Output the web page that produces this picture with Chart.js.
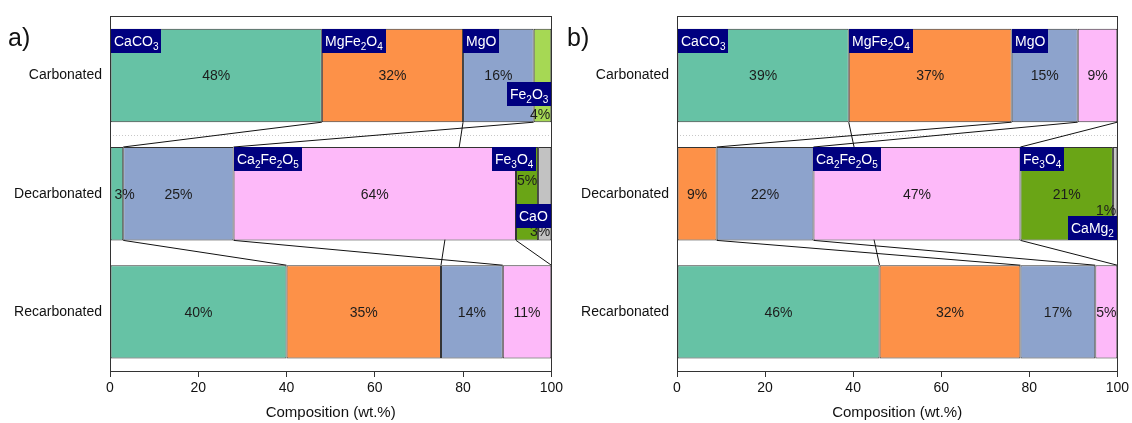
<!DOCTYPE html>
<html>
<head>
<meta charset="utf-8">
<script src="https://cdn.jsdelivr.net/npm/chart.js@4.4.1/dist/chart.umd.min.js"></script>
<style>
  html, body { margin: 0; padding: 0; background: #fff; }
  #wrap { position: relative; width: 1132px; height: 423px; overflow: hidden; }
  canvas { position: absolute; top: 0; }
  #chartA { left: 0; }
  #chartB { left: 566px; }
</style>
</head>
<body>
<div id="wrap">
  <canvas id="chartA" width="566" height="423" style="width:566px;height:423px"></canvas>
  <canvas id="chartB" width="566" height="423" style="width:566px;height:423px"></canvas>
</div>
<script>
// ---- data -------------------------------------------------------------
const categories = ['Carbonated', 'Decarbonated', 'Recarbonated'];
const xTicks = [0, 20, 40, 60, 80, 100];

// panel a) phase composition (wt.%), one value per category
const phasesA   = ['CaCO3', 'MgFe2O4', 'MgO', 'Fe2O3', 'Ca2Fe2O5', 'Fe3O4', 'CaO'];
const caco3A    = [48, 3, 40];
const mgfe2o4A  = [32, null, 35];
const mgoA      = [16, 25, 14];
const fe2o3A    = [4, null, null];
const ca2fe2o5A = [null, 64, 11];
const fe3o4A    = [null, 5, null];
const caoA      = [null, 3, null];

// panel b)
const phasesB   = ['CaCO3', 'MgFe2O4', 'MgO', 'Ca2Fe2O5', 'Fe3O4', 'CaMg2'];
const caco3B    = [39, null, 46];
const mgfe2o4B  = [37, 9, 32];
const mgoB      = [15, 22, 17];
const ca2fe2o5B = [9, 47, 5];
const fe3o4B    = [null, 21, null];
const camg2B    = [null, 1, null];

// ---- styling ----------------------------------------------------------
const FONT = "'Liberation Sans', Arial, Helvetica, sans-serif";
const phaseColors = {
  CaCO3: '#66c2a5', MgFe2O4: '#fd9148', MgO: '#8da3cc', Fe2O3: '#a6d854',
  Ca2Fe2O5: '#fdb9f9', Fe3O4: '#6aa516', CaO: '#c2c2c2', CaMg2: '#c8c8c8'
};
const TAG_SIZE = 14, SUB_SIZE = 10, TAG_H = 24, TAG_PAD = 3;

// where the navy phase tags sit on their segment
const tagsA = [
  { ds: 0, cat: 0 }, { ds: 1, cat: 0 }, { ds: 2, cat: 0 },
  { ds: 3, cat: 0, anchor: 'frameRight', top: 53 },
  { ds: 4, cat: 1 },
  { ds: 5, cat: 1, anchor: 'segEnd' },
  { ds: 6, cat: 1, anchor: 'frameRight', top: 57 }
];
const tagsB = [
  { ds: 0, cat: 0 }, { ds: 1, cat: 0 }, { ds: 2, cat: 0 },
  { ds: 3, cat: 1 }, { ds: 4, cat: 1 },
  { ds: 5, cat: 1, anchor: 'frameRight', bottom: true }
];
// value labels that do not sit in the middle of their segment
const valuePlaceA = {
  '3-0': { align: 'right', dy: 39 },
  '0-1': { align: 'left', dx: 4 },
  '5-1': { dy: -14 },
  '6-1': { align: 'right', dy: 37 }
};
const valuePlaceB = {
  '5-1': { align: 'right', dy: 16 }
};

// ---- helpers ----------------------------------------------------------
function formulaParts(text) {
  return text.match(/[A-Za-z()]+|\d+/g).map(s => ({ s, sub: /^\d+$/.test(s) }));
}
function formulaWidth(ctx, text) {
  let w = 0;
  for (const p of formulaParts(text)) {
    ctx.font = (p.sub ? SUB_SIZE : TAG_SIZE) + 'px ' + FONT;
    w += ctx.measureText(p.s).width;
  }
  return w;
}
function drawFormula(ctx, text, x, yBase) {
  ctx.textAlign = 'left';
  ctx.textBaseline = 'alphabetic';
  for (const p of formulaParts(text)) {
    ctx.font = (p.sub ? SUB_SIZE : TAG_SIZE) + 'px ' + FONT;
    ctx.fillText(p.s, x, p.sub ? yBase + 4 : yBase);
    x += ctx.measureText(p.s).width;
  }
}

// lines joining each phase's cumulative edge from one bar to the next bar holding it
const connectorPlugin = {
  id: 'connectors',
  beforeDatasetsDraw(chart) {
    const { ctx, chartArea, scales } = chart;
    ctx.save();
    // faint dotted separator between the first two rows
    const ySep = Math.round(scales.y.getPixelForValue(0.5)) + 0.5;
    ctx.strokeStyle = '#c8c8c8';
    ctx.lineWidth = 1;
    ctx.setLineDash([1, 2]);
    ctx.beginPath();
    ctx.moveTo(chartArea.left, ySep);
    ctx.lineTo(chartArea.right, ySep);
    ctx.stroke();
    ctx.setLineDash([]);

    ctx.strokeStyle = '#111';
    ctx.lineWidth = 1;
    chart.data.datasets.forEach((ds, di) => {
      const meta = chart.getDatasetMeta(di);
      const present = [];
      ds.data.forEach((v, ci) => { if (v !== null && v !== undefined) present.push(ci); });
      for (let k = 0; k + 1 < present.length; k++) {
        const a = meta.data[present[k]], b = meta.data[present[k + 1]];
        ctx.beginPath();
        ctx.moveTo(a.x, a.y + a.height / 2);
        ctx.lineTo(b.x, b.y - b.height / 2);
        ctx.stroke();
      }
    });
    ctx.restore();
  }
};

const labelPlugin = {
  id: 'segmentLabels',
  afterDatasetsDraw(chart, args, opts) {
    const { ctx, chartArea } = chart;
    ctx.save();
    // value labels
    ctx.fillStyle = '#1c1c1c';
    ctx.font = '14px ' + FONT;
    ctx.textBaseline = 'middle';
    chart.data.datasets.forEach((ds, di) => {
      const meta = chart.getDatasetMeta(di);
      ds.data.forEach((v, ci) => {
        if (v === null || v === undefined) return;
        const el = meta.data[ci];
        const place = opts.valuePlace[di + '-' + ci] || {};
        let x = (el.x + el.base) / 2, align = 'center';
        if (place.align === 'right') { x = chartArea.right - 1; align = 'right'; }
        if (place.align === 'left') { x = el.base + (place.dx || 0); align = 'left'; }
        ctx.textAlign = align;
        ctx.fillText(v + '%', x, el.y + 1 + (place.dy || 0));
      });
    });
    // phase tags
    opts.tags.forEach(t => {
      const el = chart.getDatasetMeta(t.ds).data[t.cat];
      const name = chart.data.datasets[t.ds].label;
      const w = Math.round(formulaWidth(ctx, name) + 2 * TAG_PAD);
      const barTop = el.y - el.height / 2, barBot = el.y + el.height / 2;
      let left = el.base, top = barTop;
      if (t.anchor === 'segEnd') left = el.x - w - 2;
      if (t.anchor === 'frameRight') left = chartArea.right - w;
      if (t.top !== undefined) top = barTop + t.top;
      if (t.bottom) top = barBot - TAG_H;
      left = Math.round(left); top = Math.round(top);
      ctx.fillStyle = '#00007f';
      ctx.fillRect(left, top, w, TAG_H);
      ctx.fillStyle = '#ffffff';
      drawFormula(ctx, name, left + TAG_PAD, top + 17);
    });
    ctx.restore();
  },
  afterDraw(chart, args, opts) {
    const { ctx, chartArea } = chart;
    ctx.save();
    // plot frame
    ctx.strokeStyle = '#333';
    ctx.lineWidth = 1;
    ctx.strokeRect(Math.round(chartArea.left) + 0.5, Math.round(chartArea.top) + 0.5,
                   Math.round(chartArea.right - chartArea.left), Math.round(chartArea.bottom - chartArea.top));
    // panel letter
    ctx.fillStyle = '#111';
    ctx.font = '25px ' + FONT;
    ctx.textAlign = 'left';
    ctx.textBaseline = 'middle';
    ctx.fillText(opts.letter, opts.letterX, 39);
    ctx.restore();
  }
};

function makeChart(id, phases, series, tags, valuePlace, axisWidth, rightPad, letter, letterX) {
  return new Chart(document.getElementById(id), {
    type: 'bar',
    data: {
      labels: categories,
      datasets: phases.map((p, i) => ({
        label: p,
        data: series[i],
        backgroundColor: phaseColors[p],
        borderColor: '#333',
        borderWidth: 1,
        borderSkipped: false,
        categoryPercentage: 1,
        barPercentage: 0.79
      }))
    },
    options: {
      indexAxis: 'y',
      responsive: false,
      animation: false,
      devicePixelRatio: 1,
      layout: { padding: { top: 15, right: rightPad, bottom: 0, left: 0 } },
      plugins: {
        legend: { display: false },
        tooltip: { enabled: false },
        segmentLabels: { tags, valuePlace, letter, letterX }
      },
      scales: {
        x: {
          stacked: true, min: 0, max: 100,
          afterBuildTicks: s => { s.ticks = xTicks.map(v => ({ value: v })); },
          ticks: { color: '#111', font: { size: 14, family: FONT }, padding: 3, maxRotation: 0, autoSkip: false },
          grid: { drawOnChartArea: false, drawTicks: true, tickLength: 6, color: '#333', lineWidth: 1 },
          border: { display: true, color: '#333', width: 1 },
          title: { display: true, text: 'Composition (wt.%)', color: '#111',
                   font: { size: 15, family: FONT }, padding: { top: 4, bottom: 1 } },
          afterFit: s => { s.height = 52; }
        },
        y: {
          stacked: true,
          ticks: { color: '#111', font: { size: 14, family: FONT }, padding: 8 },
          grid: { display: false, drawTicks: false },
          border: { display: true, color: '#333' },
          afterFit: s => { s.width = axisWidth; }
        }
      }
    },
    plugins: [connectorPlugin, labelPlugin]
  });
}

makeChart('chartA', phasesA, [caco3A, mgfe2o4A, mgoA, fe2o3A, ca2fe2o5A, fe3o4A, caoA],
          tagsA, valuePlaceA, 110, 14, 'a)', 8);
makeChart('chartB', phasesB, [caco3B, mgfe2o4B, mgoB, ca2fe2o5B, fe3o4B, camg2B],
          tagsB, valuePlaceB, 111, 13, 'b)', 1);
</script>
</body>
</html>
